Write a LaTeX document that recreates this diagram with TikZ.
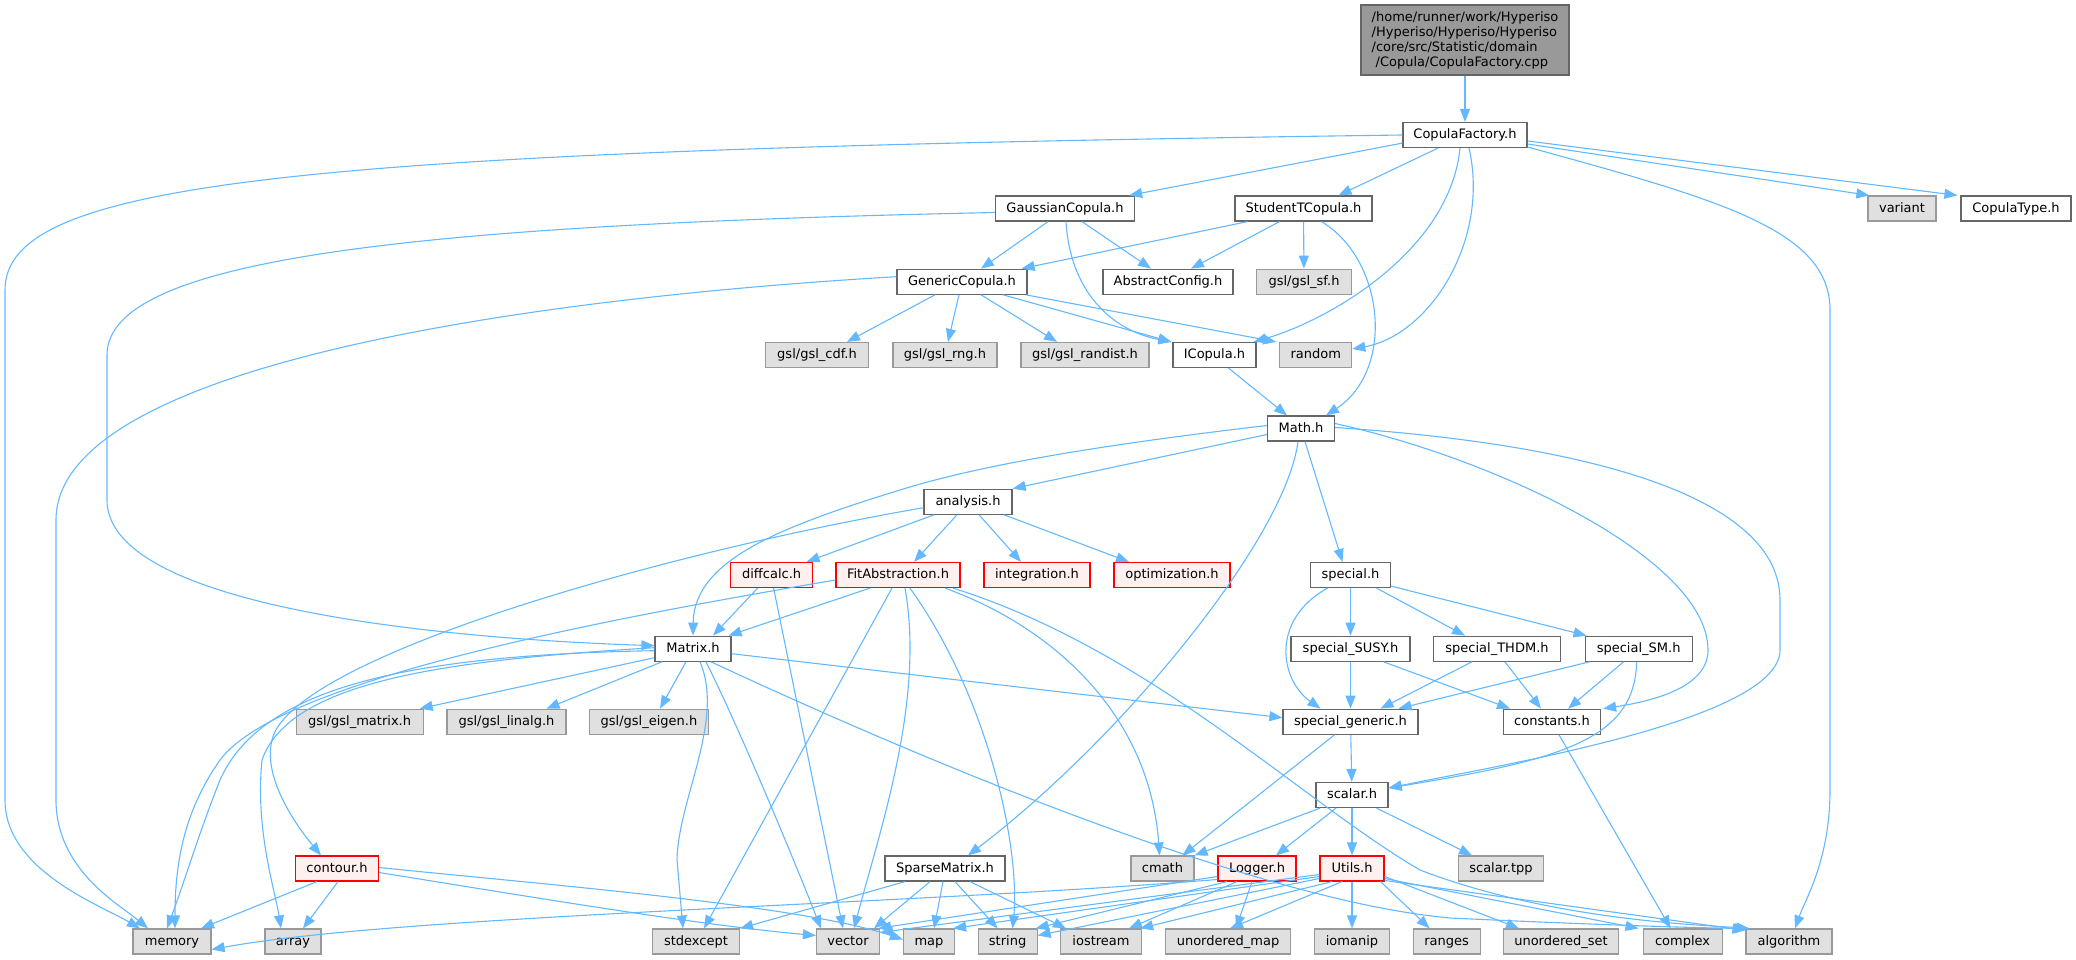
\documentclass[tikz,border=0pt]{standalone}
\usepackage{fontspec}
\setmainfont{DejaVu Sans}
\usetikzlibrary{arrows.meta}
\definecolor{edgec}{HTML}{63B8FF}
\definecolor{wbord}{HTML}{666666}
\definecolor{gfill}{HTML}{E0E0E0}
\definecolor{gbord}{HTML}{999999}
\definecolor{rfill}{HTML}{FFF0F0}
\definecolor{rbord}{HTML}{FF0000}
\definecolor{rootfill}{HTML}{999999}
\begin{document}
\begin{tikzpicture}[x=1pt,y=-1pt,
  base/.style={rectangle,inner sep=0pt,minimum height=25pt,text height=10pt,text depth=3pt,line width=1.2pt,font=\fontsize{13}{15}\selectfont},
  wn/.style={base,draw=wbord,fill=white},
  gn/.style={base,draw=gbord,fill=gfill},
  rn/.style={base,draw=rbord,fill=rfill},
  conn/.style={draw=edgec,line width=1.1pt,-{Triangle[length=13pt,width=10pt,fill=edgec]}}]
\useasboundingbox (0,0) rectangle (2076,960);
% nodes
\node[base,draw=wbord,fill=rootfill,minimum width=208pt,minimum height=70pt,align=left,text height=,text depth=,font=\fontsize{13}{15}\selectfont] (root) at (1465,40) {/home/runner/work/Hyperiso\\/Hyperiso/Hyperiso/Hyperiso\\/core/src/Statistic/domain\\\hspace*{4pt}/Copula/CopulaFactory.cpp};
\node[wn,minimum width=124pt] (cf) at (1465,135) {CopulaFactory.h};
\node[wn,minimum width=139pt] (gau) at (1065,208.5) {GaussianCopula.h};
\node[wn,minimum width=137pt] (stu) at (1303.5,208.5) {StudentTCopula.h};
\node[gn,minimum width=68pt] (var) at (1902,208.5) {variant};
\node[wn,minimum width=110pt] (ctype) at (2016,208.5) {CopulaType.h};
\node[wn,minimum width=130pt] (gen) at (962,281.7) {GenericCopula.h};
\node[wn,minimum width=130pt] (abs) at (1168,281.7) {AbstractConfig.h};
\node[gn,minimum width=95pt] (sf) at (1304,281.7) {gsl/gsl\_sf.h};
\node[gn,minimum width=103pt] (cdf) at (817,355) {gsl/gsl\_cdf.h};
\node[gn,minimum width=104pt] (rng) at (945,355) {gsl/gsl\_rng.h};
\node[gn,minimum width=128pt] (randist) at (1085,355) {gsl/gsl\_randist.h};
\node[wn,minimum width=83pt] (icop) at (1214.5,355) {ICopula.h};
\node[gn,minimum width=72pt] (random) at (1315.7,355) {random};
\node[wn,minimum width=67pt] (math) at (1301,428.5) {Math.h};
\node[wn,minimum width=88pt] (analysis) at (968,501.7) {analysis.h};
\node[rn,minimum width=82pt] (diffcalc) at (771.6,575) {diffcalc.h};
\node[rn,minimum width=124pt] (fit) at (898,575) {FitAbstraction.h};
\node[rn,minimum width=106pt] (integ) at (1037,575) {integration.h};
\node[rn,minimum width=116pt] (optim) at (1172,575) {optimization.h};
\node[wn,minimum width=80pt] (special) at (1350.5,575) {special.h};
\node[wn,minimum width=76pt] (matrix) at (693,648.7) {Matrix.h};
\node[wn,minimum width=119pt] (susy) at (1350.5,648.7) {special\_SUSY.h};
\node[wn,minimum width=127pt] (thdm) at (1497,648.7) {special\_THDM.h};
\node[wn,minimum width=107pt] (sm) at (1638.6,648.7) {special\_SM.h};
\node[gn,minimum width=127pt] (gmat) at (359.6,721.7) {gsl/gsl\_matrix.h};
\node[gn,minimum width=119pt] (glin) at (506.5,721.7) {gsl/gsl\_linalg.h};
\node[gn,minimum width=119pt] (geig) at (649,721.7) {gsl/gsl\_eigen.h};
\node[wn,minimum width=135pt] (sgen) at (1350.5,721.7) {special\_generic.h};
\node[wn,minimum width=97pt] (const) at (1552,721.7) {constants.h};
\node[wn,minimum width=72pt] (scalar) at (1352,795) {scalar.h};
\node[rn,minimum width=83pt] (contour) at (337,868.5) {contour.h};
\node[wn,minimum width=120pt] (sparse) at (945,868.5) {SparseMatrix.h};
\node[gn,minimum width=63pt] (cmath) at (1162.5,868.5) {cmath};
\node[rn,minimum width=78pt] (logger) at (1257,868.5) {Logger.h};
\node[rn,minimum width=64pt] (utils) at (1352,868.5) {Utils.h};
\node[gn,minimum width=85pt] (stpp) at (1501,868.5) {scalar.tpp};
\node[gn,minimum width=78pt] (memory) at (172,941.5) {memory};
\node[gn,minimum width=56pt] (array) at (293,941.5) {array};
\node[gn,minimum width=87pt] (stdexcept) at (696,941.5) {stdexcept};
\node[gn,minimum width=63pt] (vector) at (848,941.5) {vector};
\node[gn,minimum width=51pt] (map) at (929,941.5) {map};
\node[gn,minimum width=59pt] (string) at (1007.6,941.5) {string};
\node[gn,minimum width=81pt] (iostream) at (1101,941.5) {iostream};
\node[gn,minimum width=125pt] (umap) at (1228,941.5) {unordered\_map};
\node[gn,minimum width=75pt] (iomanip) at (1352,941.5) {iomanip};
\node[gn,minimum width=67pt] (ranges) at (1446.6,941.5) {ranges};
\node[gn,minimum width=115pt] (uset) at (1561,941.5) {unordered\_set};
\node[gn,minimum width=79pt] (complex) at (1682.6,941.5) {complex};
\node[gn,minimum width=86pt] (algorithm) at (1789,941.5) {algorithm};
% edges
\draw[conn] (root) -- (cf);
\draw[conn] (cf.west) .. controls (300,150) and (5,180) .. (5,290) -- (5,800) .. controls (5,870) and (100,905) .. ([xshift=-32pt]memory.north);
\draw[conn] ([yshift=5pt]cf.south west) -- ([xshift=-6pt]gau.north east);
\draw[conn] ([xshift=-27pt]cf.south) -- ([xshift=35pt]stu.north);
\draw[conn] ([xshift=-5pt]cf.south) .. controls (1450,250) and (1330,320) .. ([xshift=-3pt]icop.north east);
\draw[conn] ([xshift=4pt]cf.south) .. controls (1490,240) and (1430,335) .. ([yshift=6pt]random.east);
\draw[conn] ([yshift=-12pt]cf.east) .. controls (1720,200) and (1830,230) .. (1830,310) -- (1830,790) .. controls (1830,860) and (1805,900) .. ([xshift=6pt]algorithm.north);
\draw[conn] ([yshift=-9pt]cf.east) -- ([xshift=2pt]var.north west);
\draw[conn] ([yshift=-6pt]cf.east) -- ([xshift=-3pt]ctype.north west);
\draw[conn] ([yshift=-4pt]gau.west) .. controls (400,225) and (107,260) .. (107,355) -- (107,500) .. controls (107,600) and (400,637) .. ([yshift=3pt]matrix.west);
\draw[conn] ([xshift=-17pt]gau.south) -- ([xshift=19pt]gen.north);
\draw[conn] ([xshift=17pt]gau.south) -- ([xshift=-17pt]abs.north);
\draw[conn] ([xshift=1pt]gau.south) .. controls (1070,290) and (1110,330) .. ([xshift=-1pt]icop.north west);
\draw[conn] ([xshift=-56pt]stu.south) -- ([xshift=-6pt]gen.north east);
\draw[conn] ([xshift=-24pt]stu.south) -- ([xshift=23pt]abs.north);
\draw[conn] (stu) -- (sf);
\draw[conn] ([xshift=18pt]stu.south) .. controls (1385,260) and (1395,370) .. ([xshift=25pt]math.north);
\draw[conn] ([yshift=5pt]gen.west) .. controls (500,300) and (56,370) .. (56,520) -- (56,800) .. controls (56,870) and (120,905) .. ([xshift=-24pt]memory.north);
\draw[conn] ([xshift=-27pt]gen.south) -- ([xshift=30pt]cdf.north);
\draw[conn] ([xshift=-3pt]gen.south) -- ([xshift=3pt]rng.north);
\draw[conn] ([xshift=19pt]gen.south) -- ([xshift=-28pt]randist.north);
\draw[conn] ([xshift=41pt]gen.south) -- ([xshift=-1pt]icop.north west);
\draw[conn] ([xshift=-2pt]gen.south east) -- ([xshift=-3pt]random.north west);
\draw[conn] ([xshift=14pt]icop.south) -- ([xshift=-14pt]math.north);
\draw[conn] ([yshift=-6pt]math.west) -- (analysis.north east);
\draw[conn] ([yshift=3pt]math.west) .. controls (1100,445) and (980,465) .. (900,490) .. controls (780,527) and (694,560) .. (matrix.north);
\draw[conn] ([xshift=4pt]math.south) -- ([xshift=-8pt]special.north);
\draw[conn] ([xshift=-3pt]math.south) .. controls (1285,540) and (1120,740) .. ([xshift=23pt]sparse.north);
\draw[conn] ([yshift=5pt]math.east) .. controls (1500,460) and (1708,560) .. (1708,650) .. controls (1708,685) and (1660,700) .. ([xshift=2pt]const.north east);
\draw[conn] ([yshift=1pt]math.east) .. controls (1600,445) and (1780,500) .. (1780,600) -- (1780,650) .. controls (1780,720) and (1500,765) .. ([yshift=7pt]scalar.east);
\draw[conn] ([yshift=-6pt]analysis.west) .. controls (650,555) and (290,660) .. (272,740) .. controls (262,780) and (300,830) .. ([xshift=-16pt]contour.north);
\draw[conn] ([xshift=-34pt]analysis.south) -- ([xshift=35pt]diffcalc.north);
\draw[conn] ([xshift=-11pt]analysis.south) -- ([xshift=16pt]fit.north);
\draw[conn] ([xshift=11pt]analysis.south) -- ([xshift=-16pt]integ.north);
\draw[conn] ([xshift=36pt]analysis.south) -- ([xshift=-43pt]optim.north);
\draw[conn] ([xshift=-14pt]diffcalc.south) -- ([xshift=20pt]matrix.north);
\draw[conn] ([xshift=2pt]diffcalc.south) -- ([xshift=-5pt]vector.north);
\draw[conn] ([xshift=-28pt]fit.south) -- ([xshift=-3pt]matrix.north east);
\draw[conn] ([yshift=-5pt]fit.west) .. controls (600,620) and (280,680) .. (220,760) .. controls (185,810) and (175,860) .. ([xshift=3pt]memory.north);
\draw[conn] ([xshift=-6pt]fit.south) -- ([xshift=8pt]stdexcept.north);
\draw[conn] ([xshift=7pt]fit.south) .. controls (925,700) and (880,830) .. ([xshift=6pt]vector.north);
\draw[conn] ([xshift=12pt]fit.south) .. controls (990,700) and (1020,850) .. ([xshift=5pt]string.north);
\draw[conn] ([xshift=47pt]fit.south) .. controls (1060,630) and (1150,720) .. ([xshift=-3pt]cmath.north);
\draw[conn] ([xshift=55pt]fit.south) .. controls (1150,650) and (1300,800) .. (1420,870) .. controls (1550,920) and (1700,925) .. ([xshift=4pt]algorithm.north west);
\draw[conn] ([yshift=-2pt]matrix.west) .. controls (400,655) and (260,690) .. (220,780) .. controls (200,830) and (185,880) .. ([xshift=-5pt]memory.north);
\draw[conn] ([yshift=1pt]matrix.west) .. controls (450,660) and (290,680) .. (262,760) .. controls (255,830) and (275,890) .. ([xshift=-12pt]array.north);
\draw[conn] ([yshift=-9pt]matrix.west) -- ([xshift=-4pt]gmat.north east);
\draw[conn] ([xshift=-31pt]matrix.south) -- ([xshift=40pt]glin.north);
\draw[conn] ([xshift=-7pt]matrix.south) -- ([xshift=11pt]geig.north);
\draw[conn] ([yshift=-5pt]matrix.east) -- ([yshift=4pt]sgen.west);
\draw[conn] ([xshift=7pt]matrix.south) .. controls (725,720) and (678,800) .. (677,860) -- ([xshift=-13pt]stdexcept.north);
\draw[conn] ([xshift=13pt]matrix.south) .. controls (740,730) and (790,850) .. ([xshift=-27pt]vector.north);
\draw[conn] ([xshift=18pt]matrix.south) .. controls (900,750) and (1250,900) .. (1450,918) .. controls (1600,925) and (1700,928) .. ([xshift=2pt]algorithm.north west);
\draw[conn] (special) -- (susy);
\draw[conn] ([xshift=26pt]special.south) -- ([xshift=-32pt]thdm.north);
\draw[conn] ([yshift=2pt]special.south east) -- ([xshift=2pt]sm.north west);
\draw[conn] ([xshift=-23pt]special.south) .. controls (1270,620) and (1280,680) .. ([xshift=-30pt]sgen.north);
\draw[conn] (susy) -- (sgen);
\draw[conn] ([xshift=33pt]susy.south) -- ([xshift=-42pt]const.north);
\draw[conn] ([xshift=-25pt]thdm.south) -- ([xshift=30pt]sgen.north);
\draw[conn] ([xshift=8pt]thdm.south) -- ([xshift=-11pt]const.north);
\draw[conn] ([xshift=-49pt]sm.south) -- ([xshift=48pt]sgen.north);
\draw[conn] ([xshift=-15pt]sm.south) -- ([xshift=16pt]const.north);
\draw[conn] ([xshift=-2pt]sm.south) .. controls (1635,740) and (1560,760) .. ([yshift=7pt]scalar.east);
\draw[conn] (sgen) -- (scalar);
\draw[conn] ([xshift=-16pt]sgen.south) -- ([xshift=20pt]cmath.north);
\draw[conn] ([xshift=7pt]const.south) -- ([xshift=-12pt]complex.north);
\draw[conn] ([xshift=-32pt]scalar.south) -- (cmath.north east);
\draw[conn] ([xshift=-16pt]scalar.south) -- ([xshift=19pt]logger.north);
\draw[conn] (scalar) -- (utils);
\draw[conn] ([xshift=-12pt]scalar.south east) -- ([xshift=-29pt]stpp.north);
\draw[conn] ([xshift=-20pt]contour.south) -- ([xshift=29pt]memory.north);
\draw[conn] ([xshift=1pt]contour.south) -- ([xshift=10pt]array.north);
\draw[conn] ([yshift=-4pt]contour.east) .. controls (550,900) and (700,925) .. ([yshift=6pt]vector.west);
\draw[conn] ([yshift=1pt]contour.east) .. controls (550,885) and (800,905) .. ([yshift=2pt]map.west);
\draw[conn] ([xshift=-40pt]sparse.south) -- (stdexcept.north east);
\draw[conn] ([xshift=-15pt]sparse.south) -- ([xshift=26pt]vector.north);
\draw[conn] ([xshift=-2pt]sparse.south) -- ([xshift=5pt]map.north);
\draw[conn] ([xshift=10pt]sparse.south) -- ([xshift=-10pt]string.north);
\draw[conn] ([xshift=25pt]sparse.south) -- ([xshift=-35pt]iostream.north);
\draw[conn] ([yshift=-11pt]logger.west) .. controls (900,905) and (400,915) .. ([yshift=-8pt]memory.east);
\draw[conn] ([yshift=-8pt]logger.west) -- ([xshift=-2pt]vector.north east);
\draw[conn] ([xshift=-30pt]logger.south) -- ([xshift=-2pt]string.north east);
\draw[conn] ([xshift=-20pt]logger.south) -- ([xshift=28pt]iostream.north);
\draw[conn] ([xshift=-5pt]logger.south) -- ([xshift=8pt]umap.north);
\draw[conn] ([yshift=-6pt]utils.west) -- ([yshift=-4pt]vector.north east);
\draw[conn] ([yshift=-8pt]utils.west) -- ([xshift=-2pt]map.north east);
\draw[conn] ([yshift=-10pt]utils.west) -- ([yshift=6pt]string.east);
\draw[conn] ([xshift=-20pt]utils.south) -- ([xshift=-2pt]iostream.north east);
\draw[conn] ([xshift=-10pt]utils.south) -- ([xshift=2pt]umap.north);
\draw[conn] (utils) -- (iomanip);
\draw[conn] ([xshift=-4pt]utils.south east) -- ([xshift=-17pt]ranges.north);
\draw[conn] ([yshift=-8pt]utils.east) -- ([xshift=-42pt]uset.north);
\draw[conn] ([yshift=-10pt]utils.east) -- ([xshift=-4pt]complex.north west);
\draw[conn] ([yshift=-12pt]utils.east) -- ([yshift=-2pt]algorithm.north west);
\end{tikzpicture}
\end{document}
